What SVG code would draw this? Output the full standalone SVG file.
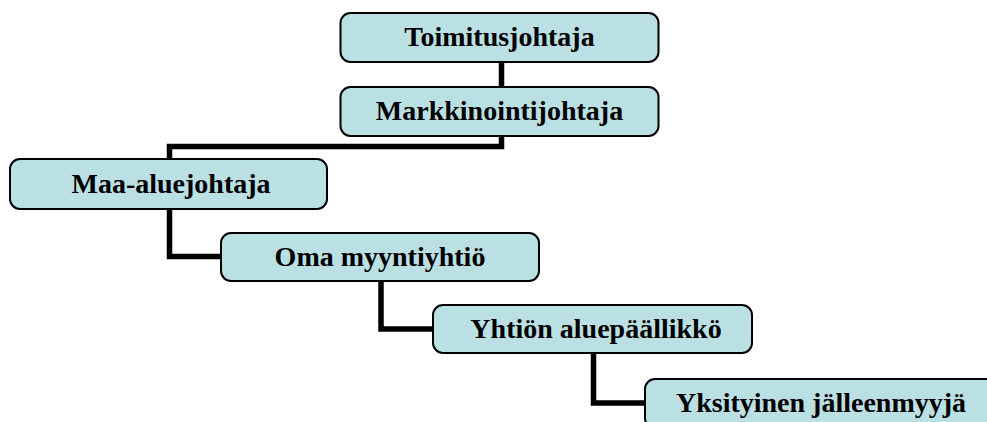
<svg xmlns="http://www.w3.org/2000/svg" width="987" height="422" viewBox="0 0 987 422">
<style>
.box{fill:#BBE0E3;stroke:#000;stroke-width:2}
.lbl{font-family:"Liberation Serif","Times New Roman",serif;font-weight:bold;font-size:28px;fill:#000;text-anchor:middle}
.conn{fill:none;stroke:#000;stroke-width:5.5;stroke-linejoin:miter;stroke-linecap:butt}
</style>
<rect width="987" height="422" fill="#fff"/>
<g id="connectors">
<path class="conn" d="M501.5,62 V87"/>
<path class="conn" d="M501.5,136 V146.5 H169.5 V159"/>
<path class="conn" d="M169.5,209 V256.5 H221"/>
<path class="conn" d="M381,281 V329 H433"/>
<path class="conn" d="M593.5,353 V403 H645"/>
</g>
<g id="n1"><rect class="box" x="340.5" y="13" width="318" height="49" rx="10"/><text class="lbl" x="499.5" y="45.5">Toimitusjohtaja</text></g>
<g id="n2"><rect class="box" x="340.5" y="87" width="318" height="49" rx="10"/><text class="lbl" x="499.5" y="120">Markkinointijohtaja</text></g>
<g id="n3"><rect class="box" x="10" y="159" width="317" height="50" rx="10"/><text class="lbl" x="171" y="193">Maa-aluejohtaja</text></g>
<g id="n4"><rect class="box" x="221" y="233" width="318" height="48" rx="10"/><text class="lbl" x="380" y="266">Oma myyntiyhtiö</text></g>
<g id="n5"><rect class="box" x="433" y="305" width="319" height="48" rx="10"/><text class="lbl" x="596" y="338">Yhtiön aluepäällikkö</text></g>
<g id="n6"><rect class="box" x="645" y="379" width="352" height="49" rx="10"/><text class="lbl" x="821" y="412">Yksityinen jälleenmyyjä</text></g>
</svg>
